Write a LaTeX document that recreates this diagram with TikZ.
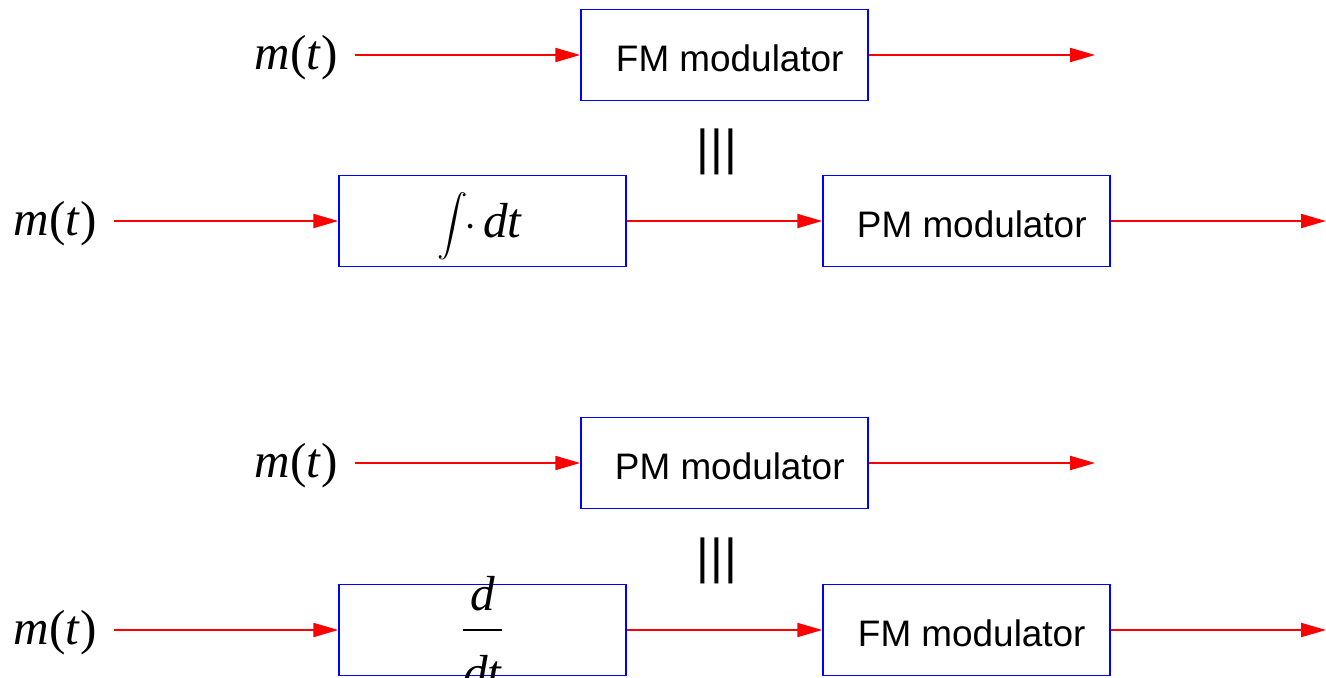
\documentclass[tikz,border=0pt]{standalone}
\usepackage{amsmath}
\usepackage{fontspec}
\setmainfont{Liberation Serif}
\setsansfont{Liberation Sans}
\usetikzlibrary{arrows.meta,positioning}

\begin{document}
\begin{tikzpicture}[
  x=0.02cm,y=-0.02cm,
  blk/.style={draw=blue,line width=0.85pt,minimum width=5.74cm,minimum height=1.82cm,text height=19pt,text depth=0pt,font=\sffamily\fontsize{21}{24}\selectfont},
  sig/.style={inner xsep=0.34cm,font=\fontsize{28}{32}\selectfont},
  eqv/.style={font=\sffamily\fontsize{28}{32}\selectfont},
  arr/.style={-{Triangle[length=0.5cm,width=0.28cm]},red,line width=1.1pt}
]
\useasboundingbox (0,0) rectangle (1326,677);

% FM = integrator + PM
\node[sig] (in1) at (296,58) {\textit{m}(\textit{t})};
\node[blk] (fm1) at (724.5,55) {\kern6pt FM modulator};
\coordinate (out1) at (1095,55);
\node[eqv] (eq1) at (717,152) {|\kern0.5pt|\kern0.5pt|};
\node[sig] (in2) at (55,224) {\textit{m}(\textit{t})};
\node[blk] (intg) at (482.5,221) {\rmfamily\smash{\raisebox{2pt}{\fontsize{18}{20}\selectfont$\displaystyle\int$}\kern-2pt\fontsize{28}{32}\selectfont$\cdot$\kern4pt\textit{dt}\kern3pt}};
\node[blk] (pm2) at (966.5,221) {\kern6pt PM modulator};
\coordinate (out2) at (1326,221);
\draw[arr] (in1.east |- fm1.west) -- (fm1.west);
\draw[arr] (fm1) -- (out1);
\draw[arr] (in2.east |- intg.west) -- (intg.west);
\draw[arr] (intg) -- (pm2);
\draw[arr] (pm2) -- (out2);

% PM = differentiator + FM
\node[sig] (in3) at (296,466) {\textit{m}(\textit{t})};
\node[blk] (pm3) at (724.5,463) {\kern6pt PM modulator};
\coordinate (out3) at (1095,463);
\node[eqv] (eq2) at (717,561) {|\kern0.5pt|\kern0.5pt|};
\node[sig] (in4) at (55,633) {\textit{m}(\textit{t})};
\node[blk] (diff) at (482.5,630) {\rmfamily\fontsize{28}{32}\selectfont\smash{\raisebox{3.5pt}{$\genfrac{}{}{1.1pt}{0}{\textit{d}\rule[-6pt]{0pt}{0pt}}{\rule{0pt}{30pt}\textit{dt}}$}}};
\node[blk] (fm4) at (966.5,630) {\kern6pt FM modulator};
\coordinate (out4) at (1326,630);
\draw[arr] (in3.east |- pm3.west) -- (pm3.west);
\draw[arr] (pm3) -- (out3);
\draw[arr] (in4.east |- diff.west) -- (diff.west);
\draw[arr] (diff) -- (fm4);
\draw[arr] (fm4) -- (out4);
\end{tikzpicture}
\end{document}
